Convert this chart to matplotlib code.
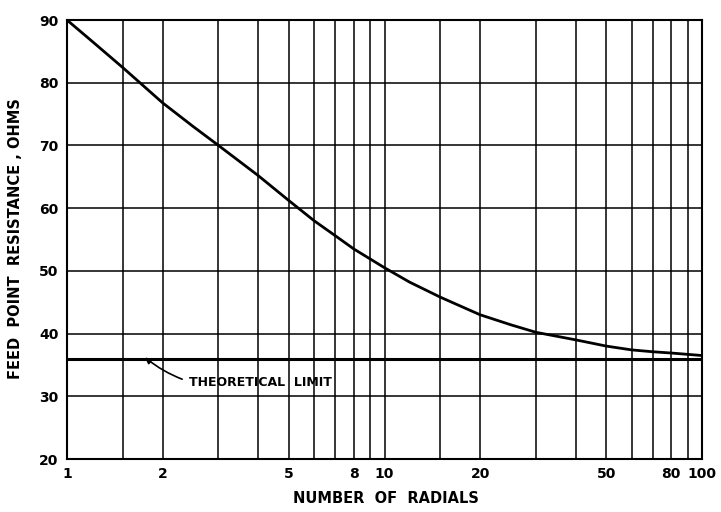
import matplotlib
matplotlib.use('Agg')
import matplotlib.pyplot as plt
from matplotlib.ticker import FixedLocator, NullLocator

# Curve: feed point resistance vs number of radials.
radials = [1, 1.2, 1.5, 2, 2.5, 3, 4, 5, 6, 7, 8, 10, 12, 15, 20, 25, 30, 40,
           50, 60, 70, 80, 100]
resistance = [90, 86.6, 82.4, 76.8, 73.0, 70.0, 65.2, 61.2, 58.0, 55.6, 53.5,
              50.5, 48.2, 45.8, 43.0, 41.4, 40.2, 39.0, 38.0, 37.4, 37.1,
              36.9, 36.5]

theoretical_limit = 36

x_grid = [1, 1.5, 2, 3, 4, 5, 6, 7, 8, 9, 10, 15, 20, 30, 40, 50, 60, 70, 80, 90, 100]
x_labels = [1, 2, 5, 8, 10, 20, 50, 80, 100]
y_ticks = [20, 30, 40, 50, 60, 70, 80, 90]

fig = plt.figure(figsize=(7.21, 5.12), dpi=100)
ax = fig.add_axes([0.0929, 0.1035, 0.8808, 0.8574])

ax.set_xscale('log')
ax.set_xlim(1, 100)
ax.set_ylim(20, 90)

# Grid drawn by hand so every line sits where the reference has one.
for xv in x_grid:
    ax.axvline(xv, color='black', lw=1.1, zorder=1)
for yv in y_ticks:
    ax.axhline(yv, color='black', lw=1.1, zorder=1)

ax.axhline(theoretical_limit, color='black', lw=2.2, zorder=2)
ax.plot(radials, resistance, color='black', lw=2.0, zorder=3)

ax.annotate('THEORETICAL  LIMIT', xy=(1.76, theoretical_limit + 0.2),
            xytext=(2.42, 32.2), fontsize=9, fontweight='bold',
            va='center', ha='left',
            arrowprops=dict(arrowstyle='-|>', color='black', lw=1.2,
                            connectionstyle='arc3,rad=-0.25',
                            shrinkA=3, shrinkB=0))

ax.xaxis.set_major_locator(FixedLocator(x_labels))
ax.xaxis.set_minor_locator(NullLocator())
ax.set_xticklabels([str(v) for v in x_labels])
ax.set_yticks(y_ticks)
ax.tick_params(length=0, labelsize=10, pad=6)
for lbl in ax.get_xticklabels() + ax.get_yticklabels():
    lbl.set_fontweight('bold')

for s in ax.spines.values():
    s.set_linewidth(1.5)

fig.text(0.535, 0.012, 'NUMBER  OF  RADIALS', ha='center', va='bottom',
         fontsize=10.5, fontweight='bold')
fig.text(0.022, 0.535, 'FEED  POINT  RESISTANCE , OHMS', ha='center',
         va='center', rotation=90, fontsize=10.5, fontweight='bold')

fig.savefig('out.png', dpi=100)
